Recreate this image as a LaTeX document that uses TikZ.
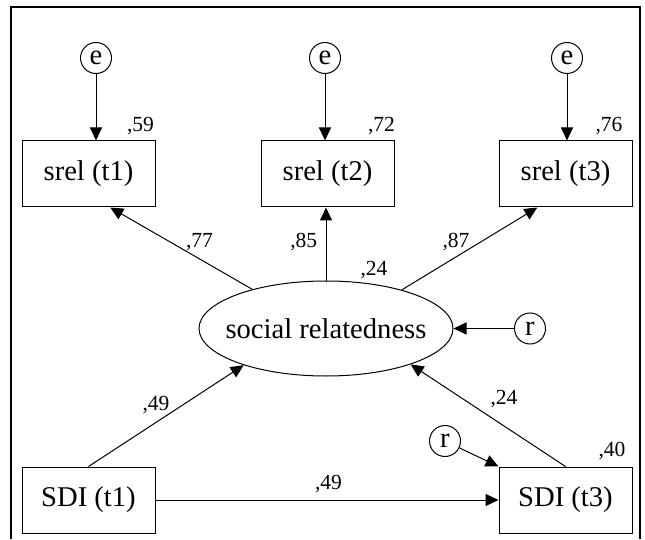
\documentclass[tikz,border=0pt]{standalone}
\usepackage{fontspec}
\setmainfont{Liberation Serif}
\usetikzlibrary{arrows.meta,shapes.geometric}

\begin{document}
\begin{tikzpicture}[
    x=1pt, y=1pt, line width=1pt,
    every node/.style={font=\fontsize{28.6}{34}\selectfont},
    indicator/.style={draw, minimum width=133pt, minimum height=66pt,
                      inner sep=0pt},
    latent/.style={draw, ellipse, minimum width=254pt, minimum height=95pt,
                   inner xsep=-11pt, inner ysep=0pt},
    resid/.style={draw, circle, minimum size=31pt, inner sep=0pt},
    coef/.style={anchor=base, font=\fontsize{21.5}{26}\selectfont},
    effect/.style={-{Triangle[length=13pt,width=12pt]}},
]
\useasboundingbox (0,0) rectangle (645,539);
\draw[line width=1.3pt] (11,0) -- (11,532) -- (640,532) -- (640,0);

\node[indicator] (s1) at (88.5,365) {srel (t1)};
\node[indicator] (s2) at (327.5,365) {srel (t2)};
\node[indicator] (s3) at (565.5,365) {srel (t3)};
\node[resid] (e1) at (96,481) {e};
\node[resid] (e2) at (325,481) {e};
\node[resid] (e3) at (567,481) {e};

\node[latent] (lat) at (326,210.5) {social relatedness};
\node[resid] (r1) at (530,210.5) {r};

\node[indicator] (d1) at (88.5,39) {SDI (t1)};
\node[indicator] (d3) at (565.5,39) {SDI (t3)};
\node[resid] (r2) at (445,98) {r};

\draw[effect] (e1) -- (e1 |- s1.north);
\draw[effect] (e2) -- (e2 |- s2.north);
\draw[effect] (e3) -- (e3 |- s3.north);
\draw[effect] (lat.152.5) -- (s1.303);
\draw[effect] (lat.north) -- (lat.north |- s2.south);
\draw[effect] (lat.27) -- (s3.230);
\draw[effect] (r1) -- (lat);
\draw[effect] (d1.north) -- (lat.204);
\draw[effect] (d3.north) -- (lat.337);
\draw[effect] (d1) -- (d3);
\draw[effect] (r2) -- (d3.north west);

\node[coef] (ce1) at (140.5,407) {,59};
\node[coef] (ce2) at (381.5,407) {,72};
\node[coef] (ce3) at (609,407) {,76};
\node[coef] (cl1) at (199.5,291) {,77};
\node[coef] (cl2) at (303.7,291) {,85};
\node[coef] (cl3) at (456,291) {,87};
\node[coef] (clat) at (374,264) {,24};
\node[coef] (cd1) at (156,129) {,49};
\node[coef] (cd3) at (504,135) {,24};
\node[coef] (cdd) at (328.5,50) {,49};
\node[coef] (cr3) at (612,83) {,40};
\end{tikzpicture}
\end{document}
